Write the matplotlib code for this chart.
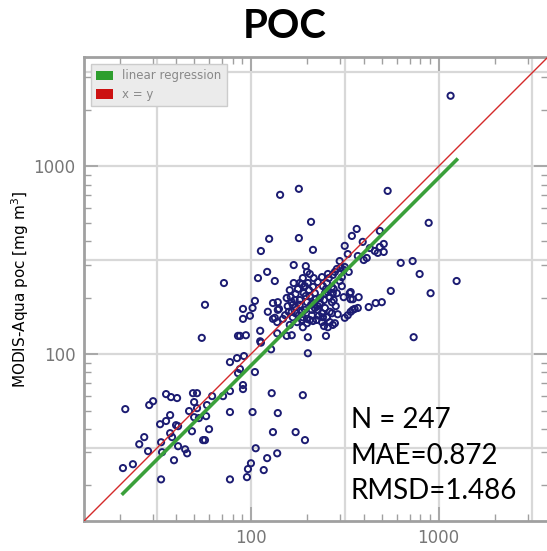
import matplotlib.pyplot as plt
import numpy as np
from matplotlib.patches import Patch

# in situ vs MODIS-Aqua POC matchups (mg m^-3)
insitu = [20.8, 23.5, 21.4, 25.4, 27.0, 28.3, 28.7, 30.1, 33.2, 33.2,
          32.8, 33.6, 35.3, 35.3, 37.1, 37.5, 37.1, 38.0, 38.9, 40.4,
          39.9, 40.9, 40.9, 44.6, 45.7, 46.8, 48.5, 49.1, 49.8, 49.8,
          51.6, 51.6, 52.8, 55.6, 56.9, 57.7, 58.3, 59.8, 62.1, 71.0,
          77.3, 77.3, 77.3, 77.3, 84.3, 87.4, 94.0, 91.8, 87.4, 85.3,
          90.7, 90.7, 105, 102, 95.2, 96.4, 100, 106, 113, 112,
          117, 122, 129, 131, 128, 138, 139, 54.7, 56.9, 71.8,
          189, 173, 194, 201, 201, 251, 736, 155, 165, 189,
          199, 245, 143, 180, 209, 180, 125, 113, 214, 122,
          109, 134, 105, 102, 90.7, 98.8, 90.7, 123, 131, 139,
          131, 138, 138, 535, 885, 1158, 366, 345, 486, 394,
          316, 328, 297, 371, 430, 457, 474, 510, 510, 486,
          399, 414, 628, 727, 792, 1247, 556, 906, 498, 462,
          424, 371, 357, 349, 340, 328, 316, 375, 340, 340,
          312, 305, 273, 280, 270, 169, 196, 199, 189, 216,
          169, 182, 194, 239, 257, 280, 301, 316, 287, 312,
          332, 305, 260, 273, 206, 163, 155, 173, 141, 134,
          112, 85.3, 187, 191, 336, 349, 287, 276, 270, 139,
          165, 167, 173, 159, 165, 167, 173, 180, 189, 199,
          206, 214, 211, 219, 227, 239, 242, 254, 263, 233,
          248, 257, 263, 273, 182, 199, 214, 227, 191, 204,
          214, 242, 254, 148, 270, 276, 161, 171, 182, 194,
          206, 219, 233, 248, 263, 211, 224, 239, 187, 176,
          157, 152, 196, 222, 245, 283, 290, 297, 227, 201,
          251, 187, 209, 230, 257, 161, 178]
modis = [24.7, 25.9, 50.9, 33.1, 36.1, 30.4, 53.5, 56.1, 21.5, 33.9,
         42.3, 30.0, 44.0, 61.2, 47.3, 59.0, 37.9, 36.1, 27.2, 58.3,
         41.8, 41.3, 32.3, 31.1, 29.6, 49.7, 38.8, 61.9, 55.5, 46.1,
         61.9, 51.5, 45.6, 34.8, 34.8, 46.7, 53.5, 39.8, 59.7, 59.7,
         90.6, 63.5, 49.1, 21.5, 95.2, 125, 126, 97.6, 83.2, 79.2,
         68.4, 65.1, 80.2, 49.1, 22.1, 24.4, 26.2, 31.5, 115, 133,
         24.1, 27.9, 61.9, 38.4, 106, 29.6, 48.5, 122, 183, 239,
         60.4, 38.4, 34.8, 123, 101, 125, 123, 125, 126, 139,
         146, 141, 705, 759, 506, 415, 411, 354, 359, 274,
         254, 245, 192, 176, 174, 160, 154, 168, 187, 189,
         154, 148, 129, 740, 500, 2377, 464, 426, 453, 396,
         377, 341, 313, 333, 367, 354, 346, 386, 350, 372,
         317, 325, 306, 313, 267, 245, 217, 211, 189, 187,
         178, 176, 174, 172, 168, 161, 156, 201, 196, 214,
         201, 230, 143, 146, 165, 298, 294, 274, 254, 254,
         239, 239, 230, 257, 267, 274, 288, 291, 284, 281,
         274, 257, 254, 264, 267, 201, 199, 209, 174, 156,
         117, 125, 236, 228, 211, 196, 211, 194, 189, 172,
         189, 183, 178, 168, 168, 157, 165, 161, 157, 154,
         152, 150, 172, 176, 172, 165, 157, 157, 148, 199,
         211, 214, 201, 211, 194, 189, 187, 180, 211, 219,
         228, 230, 239, 154, 228, 222, 219, 194, 183, 172,
         204, 211, 187, 176, 168, 161, 152, 148, 152, 148,
         180, 161, 204, 196, 194, 180, 163, 245, 242, 239,
         222, 168, 183, 160, 139, 143, 222]

# regression in log space, as drawn
reg_slope = 1.0
reg_offset = -0.061

n_label = "N = 247"
mae = 0.872
rmsd = 1.486

x = np.array(insitu)
y = np.array(modis)

fig = plt.figure(figsize=(5.47, 5.51), dpi=100)
ax = fig.add_axes([0.1536, 0.0544, 0.848, 0.842])
ax.set_xscale('log')
ax.set_yscale('log')
lo, hi = 12.9, 3820
ax.set_xlim(lo, hi)
ax.set_ylim(lo, hi)

# grid every half decade
for g in [10**1.5, 100, 10**2.5, 1000, 10**3.5]:
    ax.axvline(g, color='#d8d8d8', lw=1.6, zorder=0)
    ax.axhline(g, color='#d8d8d8', lw=1.6, zorder=0)

ax.scatter(x, y, s=20, facecolors='none', edgecolors='#1c1c72', linewidths=1.4, zorder=3)

ax.plot([lo, hi], [lo, hi], color='#d42a2a', lw=1.0, zorder=4)
xr = np.array([x.min(), x.max()])
yr = 10**(reg_slope * np.log10(xr) + reg_offset)
ax.plot(xr, yr, color='#3aa03a', lw=2.6, zorder=5)

for s in ax.spines.values():
    s.set_color('#a0a0a0')
    s.set_linewidth(2)
ax.tick_params(which='both', direction='in', top=True, right=True, colors='#a0a0a0',
               labelcolor='#777777', labelsize=12, pad=6)
ax.tick_params(which='major', length=10, width=1.2)
ax.tick_params(which='minor', length=5, width=1.0)
ax.set_xticks([100, 1000])
ax.set_yticks([100, 1000])
ax.set_xticklabels(['100', '1000'])
ax.set_yticklabels(['100', '1000'])
ax.xaxis.set_minor_formatter(plt.NullFormatter())
ax.yaxis.set_minor_formatter(plt.NullFormatter())

ax.set_ylabel('MODIS-Aqua poc [mg m$^3$]', fontsize=11, labelpad=2)
ax.set_xlabel('In situ poc [mg m$^3$]', fontsize=11, labelpad=10)

handles = [Patch(facecolor='#2e9e2e', edgecolor='none', label='linear regression'),
           Patch(facecolor='#cc1111', edgecolor='none', label='x = y')]
leg = ax.legend(handles=handles, loc='upper left', fontsize=8.5, frameon=True, fancybox=False,
                handlelength=1.4, handleheight=0.9, borderaxespad=0.6, labelspacing=0.45,
                borderpad=0.45)
leg.get_frame().set_facecolor('#ebebeb')
leg.get_frame().set_edgecolor('#cccccc')
leg.get_frame().set_alpha(1)
for t in leg.get_texts():
    t.set_color('#888888')

ax.text(0.575, 0.245, f"{n_label}\nMAE={mae:.3f}\nRMSD={rmsd:.3f}", transform=ax.transAxes,
        fontsize=20, family='Lato', va='top', ha='left', linespacing=1.45, zorder=6)

fig.suptitle('POC', fontsize=29, fontweight='bold', family='Lato', x=0.52, y=0.985)

plt.savefig('out.png', dpi=100)
